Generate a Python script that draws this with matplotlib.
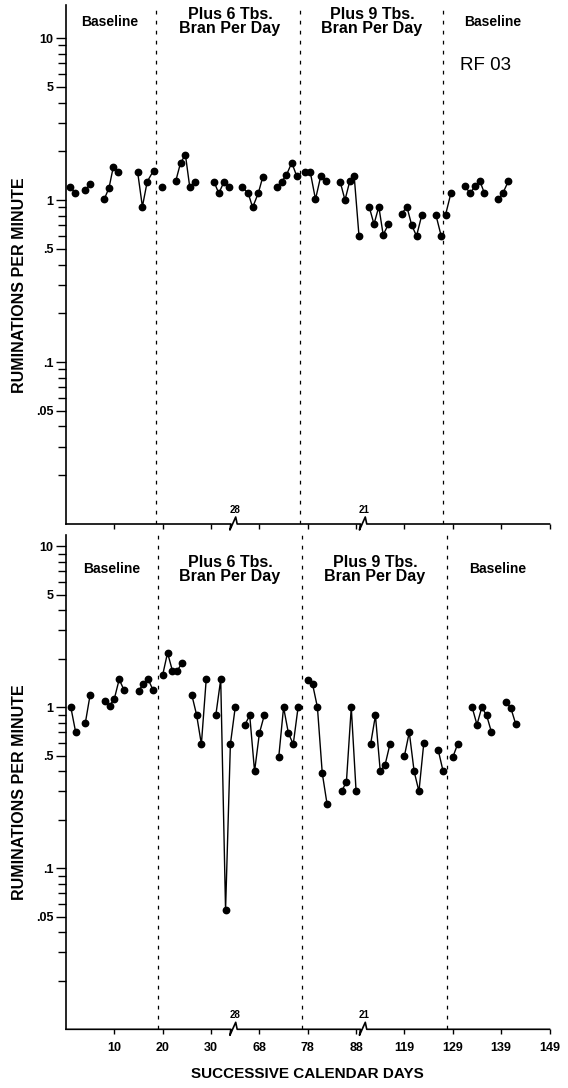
import numpy as np
import matplotlib
matplotlib.use('Agg')
import matplotlib.pyplot as plt

plt.rcParams['font.family'] = ['Liberation Sans', 'DejaVu Sans']

nan = np.nan

# Panel superior (RF 03): posicion de sesion y rumiaciones por minuto, nan corta la linea
sesion_sup = [0.8, 1.9, nan, 3.9, 5.0, nan, 7.9, 8.9, 9.8, 10.8, nan,
              14.8, 15.8, 16.8, 18.1, nan, 19.8, nan,
              22.7, 23.7, 24.7, 25.6, 26.7, nan, 30.6, 31.6, 32.7, 33.7, nan,
              36.5, 37.7, 38.6, 39.8, 40.7, nan, 43.6, 44.6, 45.6, 46.7, 47.7, nan,
              49.4, 50.5, 51.6, 52.7, 53.7, nan, 56.7, 57.7, 58.7, 59.6, 60.6, nan,
              62.7, 63.7, 64.7, 65.6, 66.7, nan, 69.4, 70.5, 71.5, 72.5, 73.6, nan,
              76.5, 77.6, nan, 78.5, 79.6, nan,
              82.5, 83.6, 84.6, 85.6, 86.5, nan, 89.4, 90.4, 91.5]
tasa_sup = [1.21, 1.11, nan, 1.15, 1.25, nan, 1.01, 1.19, 1.61, 1.50, nan,
            1.50, 0.91, 1.30, 1.52, nan, 1.20, nan,
            1.31, 1.70, 1.90, 1.20, 1.30, nan, 1.30, 1.10, 1.30, 1.20, nan,
            1.20, 1.10, 0.90, 1.11, 1.39, nan, 1.20, 1.30, 1.43, 1.70, 1.41, nan,
            1.50, 1.50, 1.01, 1.41, 1.31, nan, 1.30, 1.00, 1.31, 1.41, 0.60, nan,
            0.91, 0.71, 0.91, 0.61, 0.71, nan, 0.82, 0.91, 0.70, 0.60, 0.81, nan,
            0.81, 0.60, nan, 0.81, 1.10, nan,
            1.22, 1.10, 1.22, 1.31, 1.11, nan, 1.01, 1.11, 1.31]

# Panel inferior
sesion_inf = [1, 2, nan, 4, 5, nan, 8, 9, 10, 11, 12, nan, 15, 16, 17, 18, nan,
              20, 21, 22, 23, 24, nan, 26, 27, 28, 29, nan, 31, 32, 33, 34, 35, nan,
              37, 38, 39, 40, 41, nan, 44, 45, 46, 47, 48, nan,
              50, 51, 52, 53, 54, nan, 57, 58, 59, 60, nan,
              63, 64, 65, 66, 67, nan, 70, 71, 72, 73, 74, nan, 77, 78, nan,
              80, 81, nan, 84, 85, 86, 87, 88, nan, 91, 92, 93]
tasa_inf = [1.00, 0.70, nan, 0.80, 1.20, nan, 1.09, 1.02, 1.13, 1.49, 1.28, nan, 1.27, 1.39, 1.49, 1.28, nan,
            1.59, 2.18, 1.69, 1.69, 1.88, nan, 1.20, 0.90, 0.59, 1.49, nan, 0.90, 1.49, 0.055, 0.59, 1.00, nan,
            0.78, 0.89, 0.40, 0.69, 0.89, nan, 0.49, 1.00, 0.69, 0.59, 1.00, nan,
            1.48, 1.39, 1.00, 0.39, 0.25, nan, 0.30, 0.345, 1.00, 0.30, nan,
            0.59, 0.89, 0.40, 0.44, 0.59, nan, 0.50, 0.70, 0.40, 0.30, 0.60, nan, 0.54, 0.40, nan,
            0.49, 0.59, nan, 1.00, 0.78, 1.00, 0.89, 0.70, nan, 1.08, 0.99, 0.79]

# Cambios de fase, cortes del eje y etiquetas
fases_sup = [18.6, 48.4, 77.9]
fases_inf = [19.0, 48.9, 78.9]
cortes = [34.7, 61.5]
cortes_txt = ['28', '21']
pos_ticks_x = [10, 20, 30, 40, 50, 60, 70, 80, 90, 100]
etiquetas_x = ['10', '20', '30', '68', '78', '88', '119', '129', '139', '149']
ticks_y = [0.05, 0.1, 0.5, 1, 5, 10]
etiquetas_y = ['.05', '.1', '.5', '1', '5', '10']
titulos_fase = ['Baseline', 'Plus 6 Tbs.\nBran Per Day', 'Plus 9 Tbs.\nBran Per Day', 'Baseline']
tam_titulos = [10, 11.5, 11.5, 10]

fig = plt.figure(figsize=(5.68, 10.88), dpi=100)
H = 1088.0


def panel(rect, ylim, sesiones, tasas, fases, centros_txt, y_txt, etiquetas):
    ax = fig.add_axes(rect)
    alto_px = rect[3] * H
    ax.set_xlim(0, 100)
    ax.set_yscale('log')
    ax.set_ylim(*ylim)
    for s in ['top', 'right', 'bottom']:
        ax.spines[s].set_visible(False)
    ax.spines['left'].set_linewidth(1.2)

    ax.plot(sesiones, tasas, '-o', color='black', lw=1.0, ms=4.6)

    for f in fases:
        ax.axvline(f, color='black', lw=0.9, linestyle=(0, (3, 5)))

    # eje y
    menores = [m * 10.0 ** e for e in range(-2, 2) for m in range(1, 10)]
    menores = [v for v in menores if ylim[0] < v < ylim[1] and v not in ticks_y]
    ax.set_yticks(ticks_y)
    ax.set_yticklabels(etiquetas_y, fontsize=9, fontweight='bold')
    ax.set_yticks(menores, minor=True)
    ax.yaxis.set_minor_formatter(plt.NullFormatter())
    ax.tick_params(axis='y', which='major', length=7, width=1, pad=2)
    ax.tick_params(axis='y', which='minor', length=5.5, width=1)

    # eje x con cortes
    ax.set_xticks(pos_ticks_x)
    if etiquetas:
        ax.set_xticklabels(etiquetas_x, fontsize=9, fontweight='bold')
    else:
        ax.set_xticklabels([])
    ax.tick_params(axis='x', length=3.5, width=1, pad=6)
    tr = ax.get_xaxis_transform()
    d = 1.0 / alto_px
    xs, ys = [0], [0]
    for c in cortes:
        xs += [c - 0.6, c - 0.8, c + 0.4, c + 0.7]
        ys += [0, -6 * d, 7 * d, 0]
    xs.append(100)
    ys.append(0)
    ax.plot(xs, ys, color='black', lw=1.2, transform=tr, clip_on=False)
    for c, t in zip(cortes, cortes_txt):
        ax.text(c + 0.2, 14 * d, t, transform=tr, ha='center', va='center',
                fontsize=7, fontweight='bold')

    for xc, t, tam in zip(centros_txt, titulos_fase, tam_titulos):
        ax.text(xc, y_txt, t, transform=tr, ha='center', va='center',
                fontsize=tam, fontweight='bold', linespacing=0.95)
    return ax


ax1 = panel([66 / 568, 564 / H, 483.5 / 568, 519 / H], (0.01, 16),
            sesion_sup, tasa_sup, fases_sup, [9.1, 33.9, 63.3, 88.3], 0.968, False)
ax1.text(86.7, (524 - 66) / 519.0, 'RF 03', transform=ax1.get_xaxis_transform(),
         ha='center', va='center', fontsize=13.5)

ax2 = panel([66 / 568, 58.7 / H, 483.5 / 568, 494.6 / H], (0.01, 11.8),
            sesion_inf, tasa_inf, fases_inf, [9.5, 33.9, 63.9, 89.3], 0.93, True)

fig.text(20 / 568, 1 - 285 / H, 'RUMINATIONS PER MINUTE', rotation=90,
         ha='center', va='center', fontsize=11.5, fontweight='bold')
fig.text(20 / 568, 1 - 792 / H, 'RUMINATIONS PER MINUTE', rotation=90,
         ha='center', va='center', fontsize=11.5, fontweight='bold')
fig.text(307 / 568, 1 - 1074 / H, 'SUCCESSIVE CALENDAR DAYS',
         ha='center', va='center', fontsize=11, fontweight='bold')

fig.savefig('out.png', dpi=100)
